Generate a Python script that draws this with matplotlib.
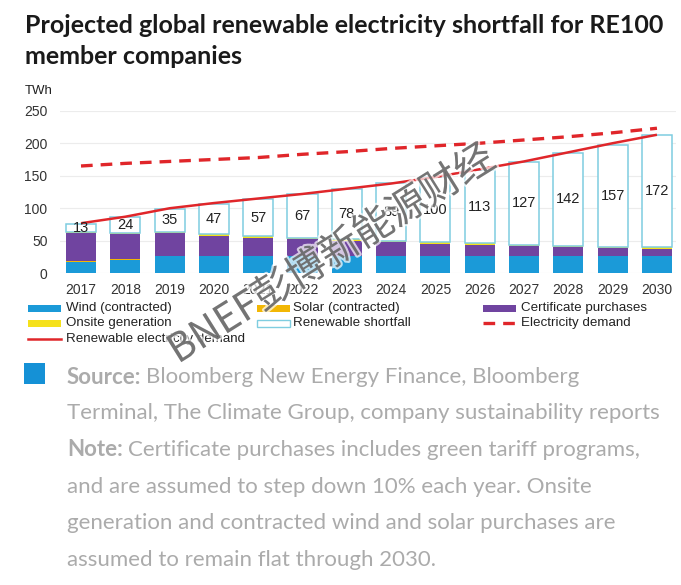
import matplotlib
matplotlib.use('Agg')
import matplotlib.pyplot as plt
import matplotlib.patheffects as pe
from matplotlib.patches import Rectangle
from matplotlib.lines import Line2D
import numpy as np

# ---------------- data ----------------
years = [str(y) for y in range(2017, 2031)]
wind = [17.5, 20.5, 26, 26, 26, 26, 26, 26, 26, 26, 26, 26, 26, 26]
solar = [1, 1, 1, 1, 1, 1, 1, 1, 1, 1, 1, 1, 1, 1]
certificates = [43, 39, 35, 31, 28, 25.5, 23, 20.5, 18.5, 17, 15, 13.5, 12, 11]
onsite = [2, 2, 2, 2, 2, 2, 2, 2, 2, 2, 2, 2, 2, 2]
shortfall = [13, 24, 35, 47, 57, 67, 78, 89, 100, 113, 127, 142, 157, 172]
renewable_demand = [77, 87, 100, 108, 115, 122, 130, 138, 148, 160, 172, 186, 200, 213]
electricity_demand = [165, 169, 172, 175, 178, 183, 187, 192, 196, 200, 205, 210, 216, 223]
y_ticks = [0, 50, 100, 150, 200, 250]

title_lines = ["Projected global renewable electricity shortfall for RE100",
               "member companies"]

C_WIND = '#1b9ad8'
C_SOLAR = '#f2b705'
C_CERT = '#7044a0'
C_ONSITE = '#f5e11b'
C_SHORT = '#7fcde0'
C_RED = '#e0262a'

W, H = 681, 585
fig = plt.figure(figsize=(W / 100, H / 100), dpi=100)
fig.patch.set_facecolor('white')


def fx(x):
    return x / W


def fy(y):
    return 1 - y / H


# ---------------- title ----------------
fig.text(fx(25), fy(33), title_lines[0], fontsize=18, weight='bold',
         family='Lato', color='#1a1a1a', va='baseline', ha='left')
fig.text(fx(25), fy(64), title_lines[1], fontsize=18, weight='bold',
         family='Lato', color='#1a1a1a', va='baseline', ha='left')

fig.text(fx(25), fy(91), 'TWh', fontsize=9.5, family='Liberation Sans',
         color='#222222', va='center', ha='left')

# ---------------- axes ----------------
ax_top, ax_bot = 110.7, 273.3
ax = fig.add_axes([fx(60), fy(ax_bot), (676 - 60) / W, (ax_bot - ax_top) / H])
x = np.arange(len(years))
bw = 0.68
bottom = np.zeros(len(years))
for vals, col in [(wind, C_WIND), (solar, C_SOLAR), (certificates, C_CERT), (onsite, C_ONSITE)]:
    ax.bar(x, vals, bw, bottom=bottom, color=col, linewidth=0, zorder=2)
    bottom = bottom + np.array(vals)
ax.bar(x, shortfall, bw, bottom=bottom, facecolor='white', edgecolor=C_SHORT,
       linewidth=1.1, zorder=2)
for i, v in enumerate(shortfall):
    ax.text(x[i], bottom[i] + v / 2, str(v), ha='center', va='center',
            fontsize=10.5, family='Liberation Sans', color='#222222', zorder=5)

ax.plot(x, renewable_demand, color=C_RED, lw=1.8, zorder=4, solid_capstyle='butt')
ax.plot(x, electricity_demand, color=C_RED, lw=2.4, dashes=(3.5, 2.4), zorder=4)

ax.set_xlim(-0.474, 13.43)
ax.set_ylim(0, 250)
ax.set_yticks(y_ticks)
ax.set_xticks(x)
ax.set_xticklabels(years)
for s in ax.spines.values():
    s.set_visible(False)
ax.grid(axis='y', color='#ececec', lw=0.8, zorder=0)
ax.set_axisbelow(True)
ax.tick_params(axis='both', length=0, labelsize=10, colors='#333333')
ax.tick_params(axis='y', pad=9)
ax.tick_params(axis='x', pad=7)
for lab in ax.get_xticklabels() + ax.get_yticklabels():
    lab.set_family('Liberation Sans')

# ---------------- legend (manual) ----------------
leg_fs = 9.6
rows = [308, 323, 339]
cols = [(28, 66), (257, 293), (483, 521)]


def patch(xp, yp, face, edge=None):
    fig.patches.append(Rectangle((fx(xp), fy(yp + 3.5)), 33 / W, 7 / H,
                                 transform=fig.transFigure, facecolor=face,
                                 edgecolor=edge if edge else face,
                                 linewidth=1.0 if edge else 0))


def label(xp, yp, s):
    fig.text(fx(xp), fy(yp), s, fontsize=leg_fs, family='Liberation Sans',
             color='#222222', va='center', ha='left')


patch(cols[0][0], rows[0], C_WIND); label(cols[0][1], rows[0], 'Wind (contracted)')
patch(cols[0][0], rows[1], C_ONSITE); label(cols[0][1], rows[1], 'Onsite generation')
fig.lines.append(Line2D([fx(cols[0][0]), fx(cols[0][0] + 33)], [fy(rows[2]), fy(rows[2])],
                        transform=fig.transFigure, color=C_RED, lw=1.8))
label(cols[0][1], rows[2], 'Renewable electricity demand')
patch(cols[1][0], rows[0], C_SOLAR); label(cols[1][1], rows[0], 'Solar (contracted)')
patch(cols[1][0], rows[1], 'white', C_SHORT); label(cols[1][1], rows[1], 'Renewable shortfall')
patch(cols[2][0], rows[0], C_CERT); label(cols[2][1], rows[0], 'Certificate purchases')
fig.lines.append(Line2D([fx(cols[2][0]), fx(cols[2][0] + 34)], [fy(rows[1]), fy(rows[1])],
                        transform=fig.transFigure, color=C_RED, lw=2.4, dashes=(3.5, 2.4)))
label(cols[2][1], rows[1], 'Electricity demand')

# ---------------- source / note ----------------
fig.patches.append(Rectangle((fx(24), fy(384)), 21 / W, 21 / H, transform=fig.transFigure,
                             facecolor='#1591d6', linewidth=0))
renderer = fig.canvas.get_renderer()
txt_col = '#ababab'
txt_fs = 16
lines = [
    ('Source:', 'Bloomberg New Energy Finance, Bloomberg'),
    (None, 'Terminal, The Climate Group, company sustainability reports'),
    ('Note:', 'Certificate purchases includes green tariff programs,'),
    (None, 'and are assumed to step down 10% each year. Onsite'),
    (None, 'generation and contracted wind and solar purchases are'),
    (None, 'assumed to remain flat through 2030.'),
]
ys = [377, 413, 450, 487, 523, 560]
for (b, r), yy in zip(lines, ys):
    x0 = 67
    if b:
        t = fig.text(fx(x0), fy(yy), b, fontsize=txt_fs, weight='bold', family='Lato',
                     color=txt_col, va='center', ha='left')
        bb = t.get_window_extent(renderer)
        x0 = bb.x1 + 5
    fig.text(fx(x0), fy(yy), r, fontsize=txt_fs, family='Lato', color=txt_col,
             va='center', ha='left')

# ---------------- watermark ----------------
fig.text(fx(332), fy(255), 'BNEF彭博新能源财经', rotation=32, ha='center', va='center',
         fontsize=28.5, color='#4a4a4a', alpha=0.7, family=['Noto Sans CJK SC', 'DejaVu Sans'],
         path_effects=[pe.withStroke(linewidth=3, foreground='white')], zorder=20)

fig.savefig('out.png', dpi=100)
